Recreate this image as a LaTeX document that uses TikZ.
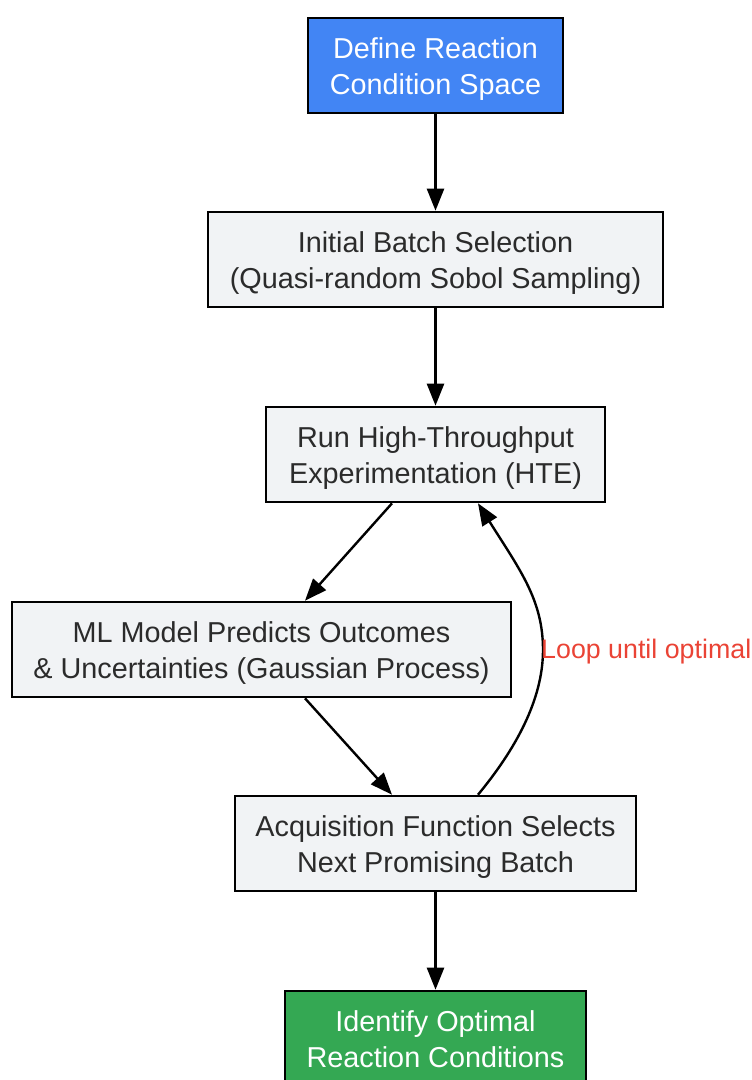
\documentclass[tikz,border=0pt]{standalone}
\usepackage{fontspec}
\setmainfont{Liberation Sans}
\usetikzlibrary{arrows.meta,calc}
\definecolor{bluefill}{HTML}{4285F4}
\definecolor{greenfill}{HTML}{34A853}
\definecolor{grayfill}{HTML}{F1F3F5}
\definecolor{txt}{HTML}{2B2B2B}
\definecolor{loopred}{HTML}{EA4335}
\newcommand{\twolines}[2]{\raisebox{-4pt}[\height][\depth]{\begin{tabular}{@{}c@{}}#1\\#2\end{tabular}}}
\begin{document}
\begin{tikzpicture}[x=1pt,y=-1pt,
  box/.style={draw=black,line width=2.6pt,minimum height=95pt,inner sep=0pt,
    font=\fontsize{28.8}{36}\selectfont},
  graybox/.style={box,fill=grayfill,text=txt},
  bluebox/.style={box,fill=bluefill,text=white},
  greenbox/.style={box,fill=greenfill,text=white},
  arr/.style={line width=2.4pt,-{Triangle[length=22pt,width=17pt]}}]
\useasboundingbox (0,0) rectangle (752,1080);
\node[bluebox,minimum width=255pt] (n1) at (435.5,65.5) {\twolines{Define Reaction}{Condition Space}};
\node[graybox,minimum width=455pt] (n2) at (435.5,259.5) {\twolines{Initial Batch Selection}{(Quasi-random Sobol Sampling)}};
\node[graybox,minimum width=339pt] (n3) at (435.5,454.5) {\twolines{Run High-Throughput}{Experimentation (HTE)}};
\node[graybox,minimum width=499pt] (n4) at (261.5,649.5) {\twolines{ML Model Predicts Outcomes}{\& Uncertainties (Gaussian Process)}};
\node[graybox,minimum width=401pt] (n5) at (435.5,843.5) {\twolines{Acquisition Function Selects}{Next Promising Batch}};
\node[greenbox,minimum width=301pt] (n6) at (435.5,1038.5) {\twolines{Identify Optimal}{Reaction Conditions}};
\draw[arr] (n1) -- (n2);
\draw[arr] (n2) -- (n3);
\draw[arr] ([xshift=-43.5pt]n3.south) -- ([xshift=43.5pt]n4.north);
\draw[arr] ([xshift=43.5pt]n4.south) -- ([xshift=-43.5pt]n5.north);
\draw[arr] (n5) -- (n6);
\coordinate (mid) at (543,650);
\draw[arr] ([xshift=42.5pt]n5.north) .. controls (515,750) and (543,700) .. (mid)
  .. controls (543,600) and (520,570) .. ([xshift=42.5pt]n3.south);
\node[anchor=west,text=loopred,inner sep=0pt,font=\fontsize{26.8}{30}\selectfont] (lbl) at (541,652) {Loop until optimal};
\end{tikzpicture}
\end{document}
